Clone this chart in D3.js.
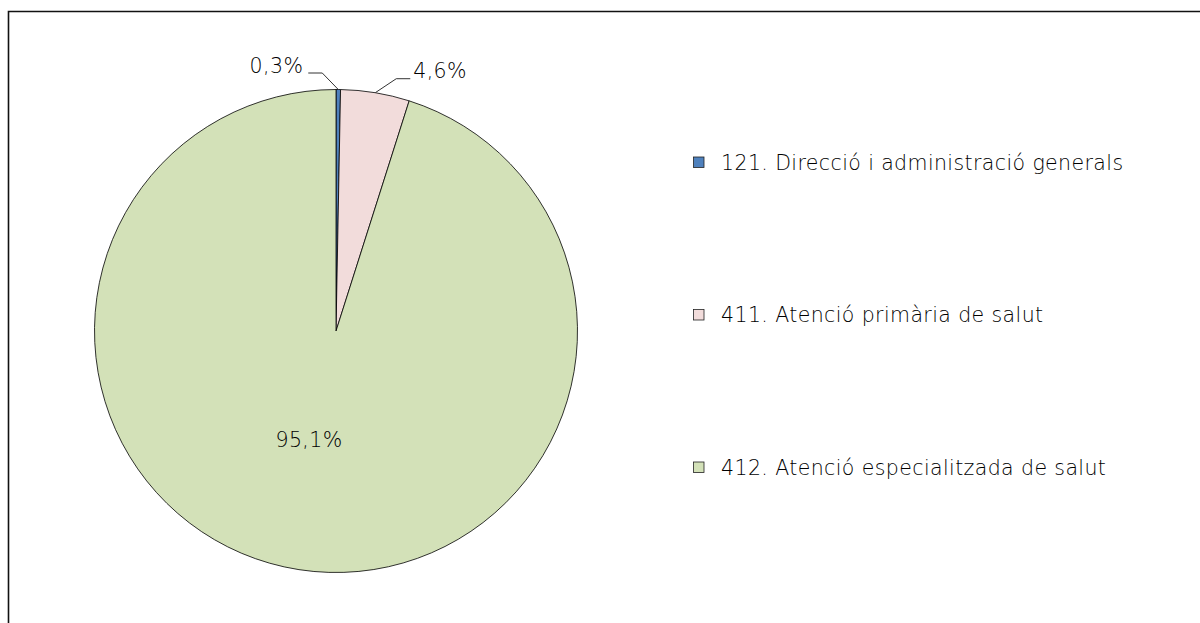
<!DOCTYPE html>
<html>
<head>
<meta charset="utf-8">
<script src="https://cdn.jsdelivr.net/npm/d3@7"></script>
<style>
  body { margin: 0; background: #fff; }
  svg text { font-family: "DejaVu Sans", sans-serif; font-weight: 200; fill: #000; letter-spacing: 0.4px; }
</style>
</head>
<body>
<svg id="chart" width="1200" height="623"></svg>
<script>
var categories = ["121. Direcció i administració generals", "411. Atenció primària de salut", "412. Atenció especialitzada de salut"]
var values = [0.3, 4.6, 95.1]
var valueLabels = ["0,3%", "4,6%", "95,1%"]
var colors = ["#4F81BD", "#F2DCDB", "#D3E1B8"]

const svg = d3.select('#chart')

// frame
svg.append('path')
  .attr('d', 'M8.5,640 V11.5 H1210')
  .attr('fill', 'none')
  .attr('stroke', '#111')
  .attr('stroke-width', 1.6)

const cx = 336, cy = 331, r = 241.5

const pie = d3.pie().sort(null).value(d => d)
const arcs = pie(values)
const arc = d3.arc().innerRadius(0).outerRadius(r)

const g = svg.append('g').attr('transform', `translate(${cx},${cy})`)

g.selectAll('path.slice')
  .data(arcs)
  .enter()
  .append('path')
  .attr('class', 'slice')
  .attr('d', arc)
  .attr('fill', (d, i) => colors[i])
  .attr('stroke', '#000')
  .attr('stroke-width', 0.8)

// outside labels with leader lines for the small slices
const edge = d3.arc().innerRadius(r).outerRadius(r)
function leader(d, i, side) {
  const p = edge.centroid(d)
  let elbow, end, tx, anchor
  if (side < 0) {
    elbow = [p[0] - 16, p[1] - 16.5]
    end = [elbow[0] - 14, elbow[1]]
    tx = end[0] - 5; anchor = 'end'
  } else {
    elbow = [p[0] + 21, p[1] - 14]
    end = [elbow[0] + 14, elbow[1]]
    tx = end[0] + 3; anchor = 'start'
  }
  g.append('polyline')
    .attr('points', [p, elbow, end].map(q => q.join(',')).join(' '))
    .attr('fill', 'none')
    .attr('stroke', '#333')
    .attr('stroke-width', 1)
  g.append('text')
    .attr('x', tx)
    .attr('y', end[1] - 0.5)
    .attr('text-anchor', anchor)
    .style('font-size', '20.5px')
    .text(valueLabels[i])
}
leader(arcs[0], 0, -1)
leader(arcs[1], 1, 1)

// inside label for the large slice
g.append('text')
  .attr('x', -27)
  .attr('y', 116)
  .attr('text-anchor', 'middle')
  .style('font-size', '20.5px')
  .text(valueLabels[2])

// legend
const legend = svg.append('g').attr('transform', 'translate(693,162.5)')
const items = legend.selectAll('g')
  .data(categories)
  .enter()
  .append('g')
  .attr('transform', (d, i) => `translate(0,${i * 152.5})`)

items.append('rect')
  .attr('x', 0.5).attr('y', -5.5)
  .attr('width', 10.5).attr('height', 10.5)
  .attr('fill', (d, i) => colors[i])
  .attr('stroke', '#222')
  .attr('stroke-width', 0.8)

items.append('text')
  .attr('x', 28)
  .attr('y', 7)
  .style('font-size', '20.5px')
  .text(d => d)
</script>
</body>
</html>
